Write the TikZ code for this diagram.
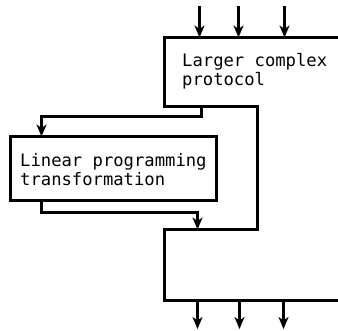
\documentclass[tikz,border=0pt]{standalone}
\usepackage{fontspec}
\setmonofont{DejaVu Sans Mono}
\usetikzlibrary{arrows.meta}
\begin{document}
\begin{tikzpicture}[x=1pt,y=-1pt,
  wire/.style={line width=3pt},
  flow/.style={wire,-{Stealth[length=12pt,width=10pt,inset=3.5pt]}},
  label/.style={font=\ttfamily\fontsize{17.2}{19}\selectfont,inner sep=0pt,align=left,anchor=base west},
  box/.style={draw,line width=3pt,inner sep=0pt,outer sep=0pt}]
\useasboundingbox (0,0) rectangle (338,330);
% outer protocol outline (open to the right)
\coordinate (pTop) at (338,37.5);
\coordinate (pBot) at (338,300.5);
\draw[wire,line join=miter] (pTop) -- (164.5,37.5) -- (164.5,106.5) -- (257.5,106.5) -- (257.5,229.5)
  -- (164.5,229.5) -- (164.5,300.5) -- (pBot);
\node[label] (outer) at (182,85) {Larger complex\\protocol};
% inner LP block
\node[box,minimum width=206pt,minimum height=64pt,anchor=north west] (lp) at (10.5,136.5) {};
\node[label] (inner) at (20,185) {Linear programming\\transformation};
% inputs
\foreach \x/\n in {199.5/a,238.5/b,284.5/c}{
  \coordinate (in\n) at (\x,6);
  \coordinate (inT\n) at (\x,37.5);
  \draw[flow] (in\n) -- (inT\n);
}
% outputs
\foreach \x/\n in {197.5/a,239.5/b,283.5/c}{
  \coordinate (outS\n) at (\x,300.5);
  \coordinate (out\n) at (\x,329);
  \draw[flow] (outS\n) -- (out\n);
}
% call into the LP block and return
\coordinate (callS) at (201.5,106.5);
\coordinate (retE) at (197.5,229.5);
\draw[flow] (callS) -- (201.5,116.5) -- (41.5,116.5) -- (lp.north west -| 41.5,0);
\draw[flow] (lp.south west -| 41.5,0) -- (41.5,212.5) -- (197.5,212.5) -- (retE);
\end{tikzpicture}
\end{document}
